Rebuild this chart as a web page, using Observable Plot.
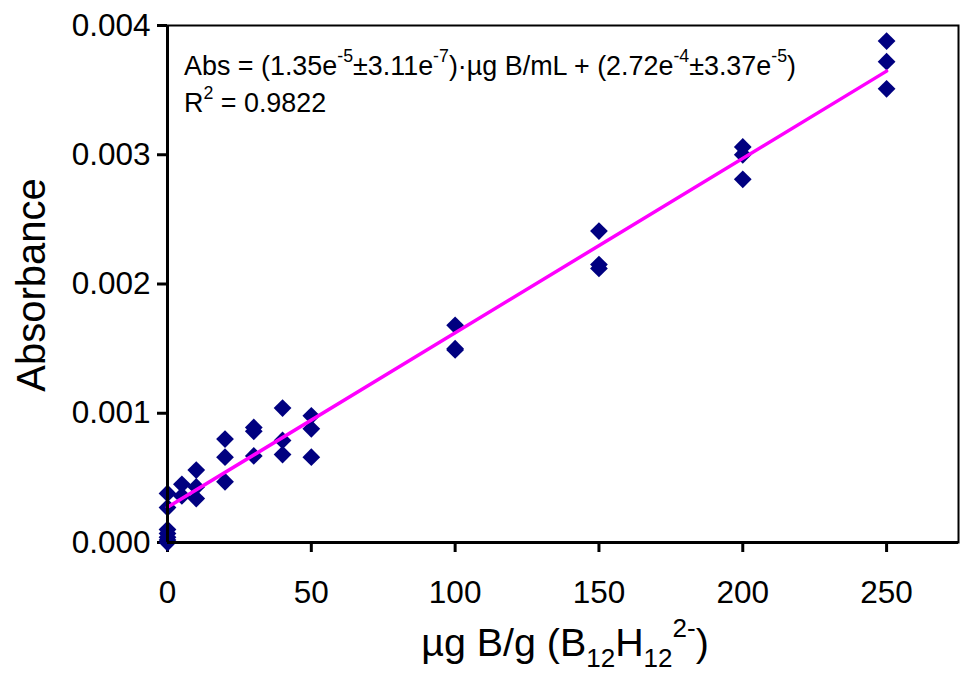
<!DOCTYPE html>
<html>
<head>
<meta charset="utf-8">
<script src="https://cdn.jsdelivr.net/npm/d3@7"></script>
<script src="https://cdn.jsdelivr.net/npm/@observablehq/plot@0.6"></script>
<style>
  html, body { margin: 0; padding: 0; background: #fff; }
  #chart svg { display: block; }
</style>
</head>
<body>
<div id="chart"></div>
<script>
// Concentration (µg B/g) for each measurement
const conc = [
  0, 0, 0, 0, 0, 0, 0,
  5, 5,
  10, 10, 10,
  20, 20, 20,
  30, 30, 30,
  40, 40, 40,
  50, 50, 50,
  100, 100, 100,
  150, 150, 150,
  200, 200, 200,
  250, 250, 250
];
// Absorbance readings
const absorbance = [
  0.00038, 0.00027, 0.00010, 0.00007, 0.00004, 0.00002, 0.00000,
  0.00045, 0.00036,
  0.00056, 0.00043, 0.00034,
  0.00080, 0.00066, 0.00047,
  0.00089, 0.00086, 0.00067,
  0.00104, 0.00079, 0.00068,
  0.00098, 0.00088, 0.00066,
  0.00168, 0.00150, 0.00149,
  0.00241, 0.00215, 0.00212,
  0.00306, 0.00300, 0.00281,
  0.00388, 0.00372, 0.00351
];
// Fitted line end points (from the equation shown)
const fitX = [0, 250];
const fitY = [0.000272, 0.003647];

const xTicks = [0, 50, 100, 150, 200, 250];
const yTicks = [0.000, 0.001, 0.002, 0.003, 0.004];

// Text pieces: [text, kind] where kind is "sup", "sub" or ""
const eqLine1 = [["Abs = (1.35e", ""], ["-5", "sup"], ["±3.11e", ""], ["-7", "sup"],
  [")·µg B/mL + (2.72e", ""], ["-4", "sup"], ["±3.37e", ""], ["-5", "sup"], [")", ""]];
const eqLine2 = [["R", ""], ["2", "sup"], [" = 0.9822", ""]];
const xTitle = [["µg B/g (B", ""], ["12", "sub"], ["H", ""], ["12", "sub"], ["2-", "sup"], [")", ""]];
const yTitle = "Absorbance";

const data = conc.map((c, i) => ({x: c, y: absorbance[i]}));
const fit = fitX.map((v, i) => ({x: v, y: fitY[i]}));

const font = "'Liberation Sans', Arial, Helvetica, sans-serif";

const plot = Plot.plot({
  width: 964,
  height: 676,
  marginLeft: 167,
  marginRight: 6,
  marginTop: 25,
  marginBottom: 134,
  style: {fontFamily: font, fontSize: "31.5px", color: "#000", background: "#fff", overflow: "visible"},
  x: {domain: [0, 275], label: null},
  y: {domain: [0, 0.004], label: null},
  marks: [
    Plot.frame({stroke: "#000", strokeWidth: 2}),
    Plot.axisX({ticks: xTicks, tickSize: 10, tickPadding: 28, strokeWidth: 3, label: null, tickFormat: d => String(d)}),
    Plot.axisY({ticks: yTicks, tickSize: 10, tickPadding: 7, strokeWidth: 3, label: null, tickFormat: d3.format(".3f")}),
    Plot.dot(data, {x: "x", y: "y", symbol: "diamond2", r: 8, fill: "#000080", stroke: "none"}),
    Plot.line(fit, {x: "x", y: "y", stroke: "#FF00FF", strokeWidth: 3.5}),
    Plot.ruleX([0], {stroke: "#000", strokeWidth: 3}),
    Plot.ruleY([0], {stroke: "#000", strokeWidth: 3})
  ]
});

document.getElementById("chart").appendChild(plot);

const svg = d3.select(plot);

function rich(parent, parts, x, y, size, anchor) {
  const t = parent.append("text")
    .attr("font-family", font)
    .attr("font-size", size)
    .attr("fill", "#000")
    .attr("text-anchor", anchor)
    .attr("x", x)
    .attr("y", y);
  let shift = 0;
  for (const [txt, kind] of parts) {
    let target = 0;
    let fs = size;
    if (kind === "sup") { target = -0.48 * size; fs = 0.66 * size; }
    if (kind === "sub") { target = 0.28 * size; fs = 0.66 * size; }
    t.append("tspan")
      .attr("dy", target - shift)
      .attr("font-size", fs)
      .text(txt);
    shift = target;
  }
  return t;
}

// Equation annotation
rich(svg, eqLine1, 184, 75, 26.9, "start");
rich(svg, eqLine2, 184, 112, 26.9, "start");

// Axis titles
rich(svg, xTitle, 565, 656, 39.4, "middle");
svg.append("text")
  .attr("font-family", font)
  .attr("font-size", 40)
  .attr("fill", "#000")
  .attr("text-anchor", "middle")
  .attr("transform", "translate(45,285) rotate(-90)")
  .text(yTitle);
</script>
</body>
</html>
